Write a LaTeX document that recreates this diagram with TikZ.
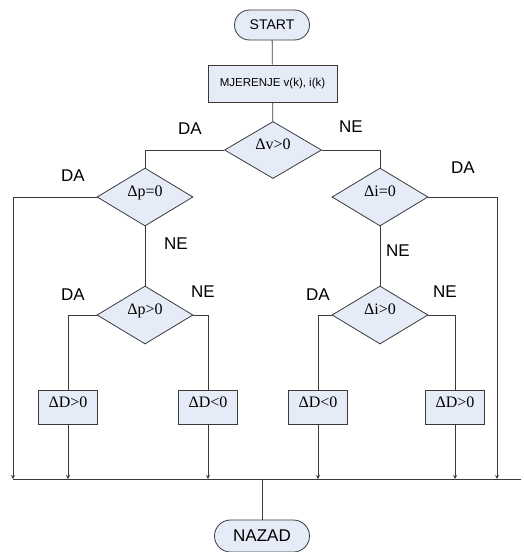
\documentclass[tikz,border=0pt]{standalone}
\usepackage{fontspec}
\setmainfont{Liberation Sans}
\newfontfamily\tnr{Liberation Serif}
\usetikzlibrary{shapes.geometric}
\definecolor{ccFill}{HTML}{E6ECF7}
\definecolor{ccLine}{HTML}{3A3A3A}

\begin{document}
\begin{tikzpicture}[x=1pt, y=-1pt, >=stealth,
  conn/.style={draw=ccLine, line width=0.8pt},
  term/.style={draw=ccLine, fill=ccFill, line width=0.8pt, rounded corners=15pt,
    minimum width=75pt, minimum height=30pt, inner sep=0pt, font=\fontsize{14}{16}\selectfont},
  proc/.style={draw=ccLine, fill=ccFill, line width=0.8pt, minimum width=59pt,
    minimum height=34pt, inner sep=0pt, text height=9pt, text depth=8pt,
    font=\tnr\fontsize{16}{18}\selectfont},
  dec/.style={diamond, draw=ccLine, fill=ccFill, line width=0.8pt, minimum width=96pt,
    minimum height=58pt, inner sep=0pt, text height=8pt, text depth=10pt,
    font=\tnr\fontsize{16}{18}\selectfont},
  lbl/.style={font=\fontsize{17}{19}\selectfont, inner sep=0pt}]
\useasboundingbox (0,0) rectangle (523,552);
% blocks
\node[term] (start) at (272,25) {START};
\node[draw=ccLine, fill=ccFill, line width=0.8pt, minimum width=129pt, minimum height=37pt,
  inner sep=0pt, font=\fontsize{11.5}{13}\selectfont] (meas) at (272.5,83.5) {MJERENJE v(k), i(k)};
\node[dec, minimum width=97pt, minimum height=57pt] (dv) at (273,150) {Δv>0};
\node[dec] (dp0) at (145,197) {Δp=0};
\node[dec] (di0) at (380,197) {Δi=0};
\node[dec] (dpg) at (145,315) {Δp>0};
\node[dec] (dig) at (380,315) {Δi>0};
\node[proc] (dD1) at (68,407) {ΔD>0};
\node[proc] (dD2) at (208,407) {ΔD<0};
\node[proc] (dD3) at (318,407) {ΔD<0};
\node[proc] (dD4) at (455,407) {ΔD>0};
\node[term, minimum width=95pt, minimum height=32pt, rounded corners=16pt,
  font=\fontsize{17}{19}\selectfont] (back) at (262,536) {NAZAD};
% bus
\coordinate (busL) at (13,479);
\coordinate (busR) at (497,479);
\coordinate (busE) at (521,479);
\coordinate (busM) at (262,479);
% connectors
\draw[conn] (start) -- (meas);
\draw[conn] (meas) -- (dv);
\draw[conn] (dv.west) -| (dp0.north);
\draw[conn] (dv.east) -| (di0.north);
\draw[conn, ->] (dp0.west) -| (busL);
\draw[conn, ->] (di0.east) -| (busR);
\draw[conn] (dp0.south) -- (dpg.north);
\draw[conn] (di0.south) -- (dig.north);
\draw[conn] (dpg.west) -| (dD1.north);
\draw[conn] (dpg.east) -| (dD2.north);
\draw[conn] (dig.west) -| (dD3.north);
\draw[conn] (dig.east) -| (dD4.north);
\foreach \b in {dD1,dD2,dD3,dD4}
  \draw[conn, ->] (\b.south) -- (\b.south |- busL);
\draw[conn] (busL) -- (busE);
\draw[conn] (busM) -- (back);
% labels
\node[lbl] (l1) at (190,129) {DA};
\node[lbl] (l2) at (351,127) {NE};
\node[lbl] (l3) at (73,176) {DA};
\node[lbl] (l4) at (176,244) {NE};
\node[lbl] (l5) at (463,168) {DA};
\node[lbl] (l6) at (398,251) {NE};
\node[lbl] (l7) at (73,295) {DA};
\node[lbl] (l8) at (203,292) {NE};
\node[lbl] (l9) at (318,295) {DA};
\node[lbl] (l10) at (445,292) {NE};
\end{tikzpicture}
\end{document}
